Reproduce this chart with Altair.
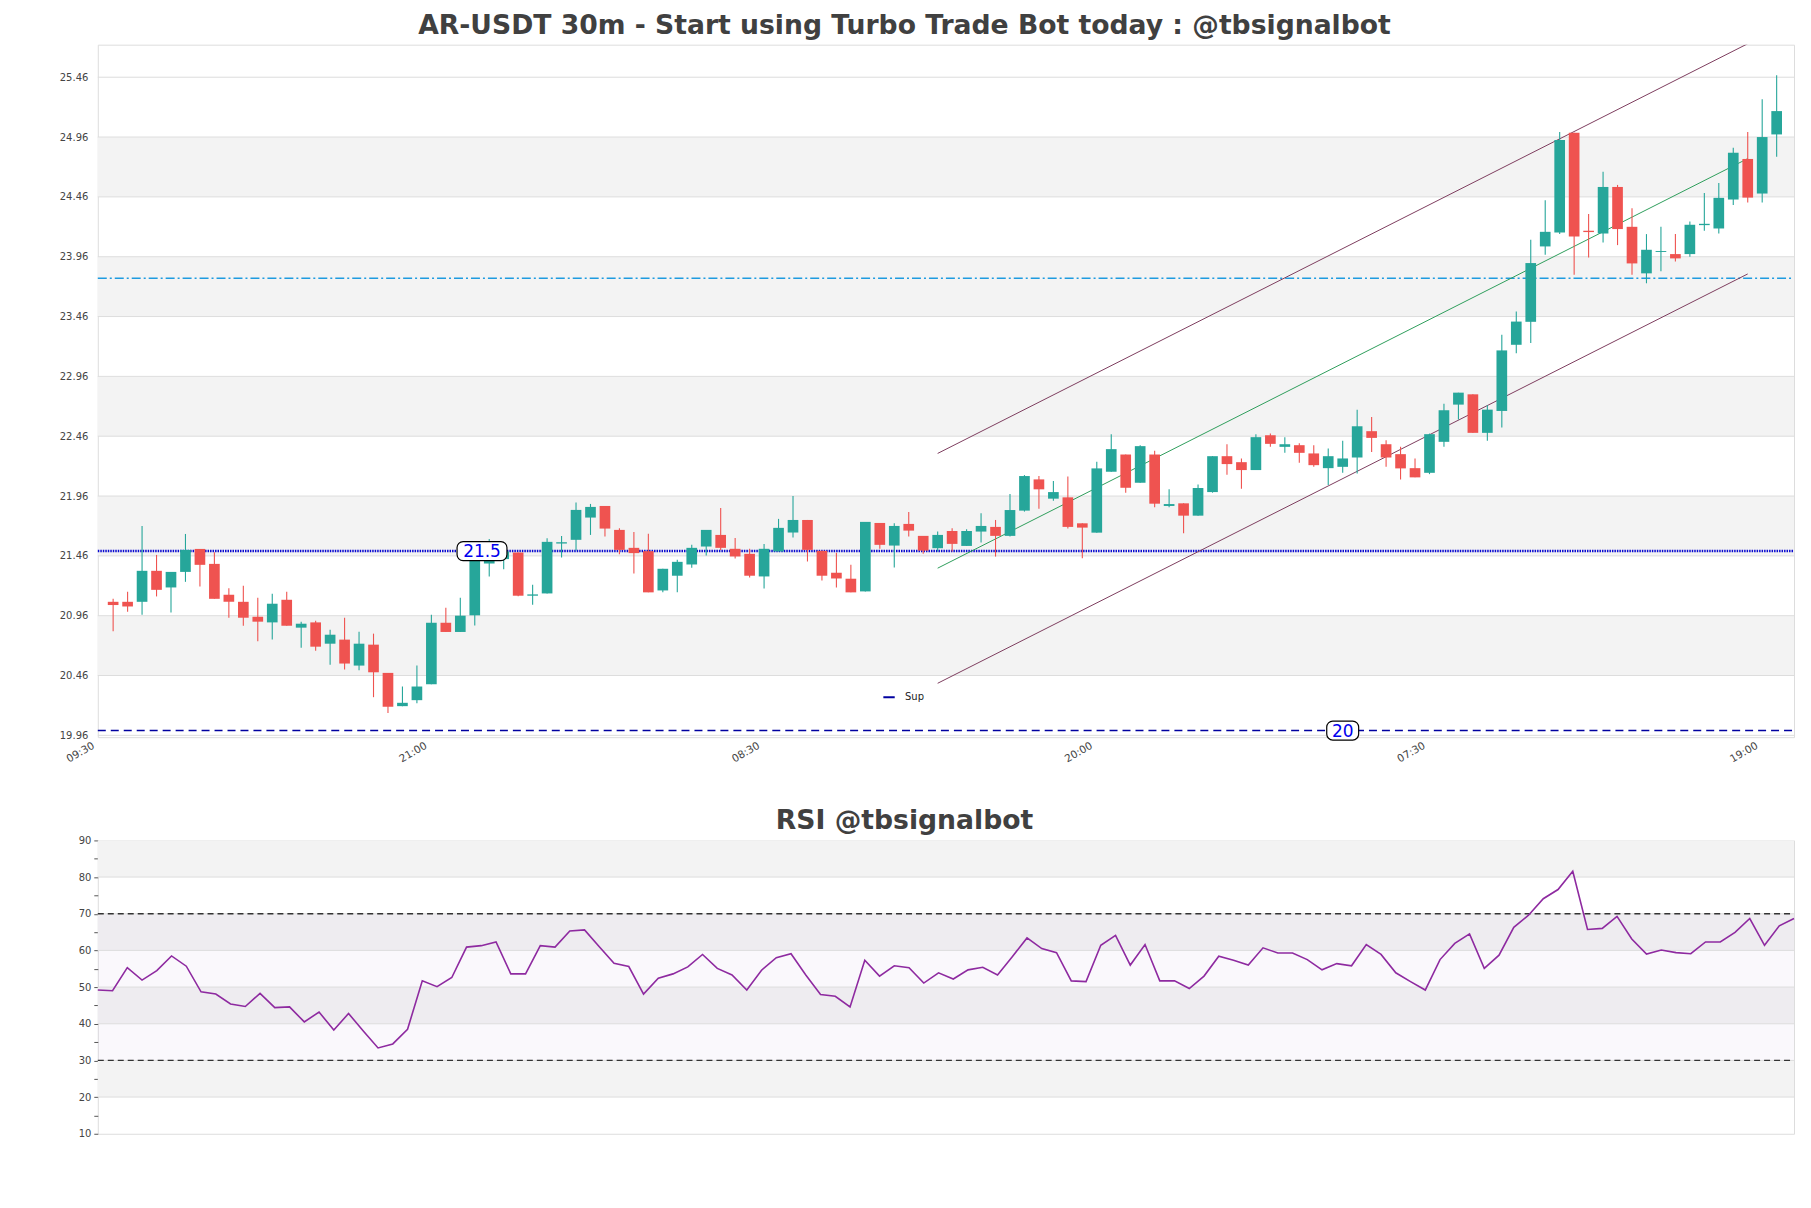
import altair as alt
import pandas as pd

# ---------------- data ----------------
opens = [21.076, 21.076, 21.076, 21.335, 21.196, 21.326, 21.518, 21.393, 21.135, 21.076,
         20.951, 20.904, 21.093, 20.860, 20.904, 20.726, 20.760, 20.543, 20.718, 20.482,
         20.204, 20.254, 20.387, 20.901, 20.824, 20.963, 21.396, 21.433, 21.488, 21.127,
         21.146, 21.563, 21.594, 21.780, 21.877, 21.677, 21.527, 21.499, 21.171, 21.294,
         21.388, 21.538, 21.635, 21.519, 21.477, 21.288, 21.497, 21.655, 21.760, 21.502,
         21.319, 21.269, 21.163, 21.735, 21.546, 21.727, 21.627, 21.524, 21.668, 21.543,
         21.663, 21.702, 21.627, 21.838, 22.099, 21.938, 21.949, 21.732, 21.654, 22.163,
         22.307, 22.071, 22.307, 21.877, 21.899, 21.796, 21.993, 22.293, 22.243, 22.177,
         22.468, 22.371, 22.385, 22.316, 22.193, 22.204, 22.282, 22.502, 22.393, 22.310,
         22.193, 22.154, 22.413, 22.724, 22.810, 22.488, 22.671, 23.224, 23.416, 24.046,
         24.163, 24.996, 24.177, 24.154, 24.543, 24.210, 23.821, 24.000, 23.982, 23.982,
         24.224, 24.196, 24.438, 24.777, 24.488, 24.982]
highs = [21.101, 21.160, 21.710, 21.468, 21.326, 21.643, 21.518, 21.490, 21.190, 21.210,
         21.110, 21.143, 21.160, 20.910, 20.918, 20.843, 20.943, 20.826, 20.810, 20.482,
         20.368, 20.543, 20.968, 21.026, 21.110, 21.420, 21.601, 21.520, 21.488, 21.219,
         21.608, 21.627, 21.905, 21.894, 21.877, 21.691, 21.660, 21.644, 21.352, 21.427,
         21.552, 21.677, 21.860, 21.610, 21.519, 21.560, 21.769, 21.960, 21.760, 21.502,
         21.485, 21.385, 21.744, 21.735, 21.732, 21.827, 21.627, 21.663, 21.691, 21.682,
         21.816, 21.760, 21.977, 22.135, 22.127, 22.085, 22.124, 21.732, 22.246, 22.477,
         22.307, 22.385, 22.338, 22.016, 21.899, 22.057, 22.293, 22.393, 22.274, 22.477,
         22.483, 22.452, 22.402, 22.385, 22.357, 22.421, 22.682, 22.621, 22.427, 22.371,
         22.274, 22.482, 22.732, 22.824, 22.810, 22.718, 23.307, 23.502, 24.102, 24.432,
         25.002, 24.996, 24.316, 24.671, 24.560, 24.366, 24.149, 24.210, 24.149, 24.254,
         24.493, 24.577, 24.871, 25.002, 25.277, 25.477]
lows = [20.829, 20.993, 20.968, 21.121, 20.987, 21.243, 21.204, 21.101, 20.943, 20.876,
        20.746, 20.760, 20.876, 20.693, 20.668, 20.551, 20.510, 20.504, 20.279, 20.146,
        20.204, 20.229, 20.387, 20.824, 20.824, 20.879, 21.287, 21.349, 21.122, 21.052,
        21.146, 21.446, 21.505, 21.635, 21.621, 21.474, 21.313, 21.155, 21.155, 21.155,
        21.360, 21.463, 21.510, 21.438, 21.280, 21.188, 21.497, 21.613, 21.413, 21.255,
        21.196, 21.155, 21.163, 21.519, 21.363, 21.621, 21.477, 21.496, 21.496, 21.543,
        21.571, 21.454, 21.621, 21.830, 21.854, 21.921, 21.688, 21.441, 21.654, 22.163,
        21.988, 22.071, 21.866, 21.866, 21.649, 21.796, 21.988, 22.138, 22.021, 22.177,
        22.371, 22.321, 22.238, 22.204, 22.052, 22.154, 22.149, 22.329, 22.204, 22.099,
        22.116, 22.143, 22.371, 22.599, 22.488, 22.421, 22.532, 23.154, 23.238, 23.977,
        24.149, 23.810, 23.954, 24.079, 24.057, 23.810, 23.738, 23.838, 23.921, 23.960,
        24.177, 24.154, 24.393, 24.413, 24.413, 24.796]
closes = [21.049, 21.037, 21.335, 21.176, 21.326, 21.510, 21.385, 21.101, 21.076, 20.943,
          20.910, 21.060, 20.876, 20.893, 20.701, 20.801, 20.560, 20.726, 20.487, 20.199,
          20.232, 20.368, 20.901, 20.824, 20.960, 21.418, 21.435, 21.497, 21.127, 21.138,
          21.577, 21.574, 21.844, 21.869, 21.688, 21.510, 21.483, 21.155, 21.352, 21.410,
          21.527, 21.677, 21.527, 21.455, 21.294, 21.519, 21.694, 21.760, 21.510, 21.294,
          21.271, 21.155, 21.744, 21.552, 21.710, 21.671, 21.504, 21.635, 21.560, 21.668,
          21.710, 21.627, 21.843, 22.127, 22.016, 21.993, 21.702, 21.696, 22.191, 22.352,
          22.029, 22.377, 21.896, 21.893, 21.796, 22.027, 22.293, 22.227, 22.177, 22.452,
          22.396, 22.393, 22.321, 22.218, 22.293, 22.274, 22.543, 22.446, 22.282, 22.191,
          22.116, 22.477, 22.677, 22.824, 22.488, 22.682, 23.177, 23.418, 23.907, 24.168,
          24.935, 24.129, 24.166, 24.543, 24.191, 23.904, 24.018, 24.008, 23.946, 24.227,
          24.235, 24.452, 24.829, 24.454, 24.960, 25.177]

rsi = [49.2, 49.0, 55.3, 51.9, 54.5, 58.5, 55.7, 48.7, 48.1, 45.4,
       44.7, 48.3, 44.4, 44.6, 40.5, 43.2, 38.3, 42.8, 38.0, 33.4,
       34.5, 38.5, 51.7, 50.1, 52.6, 60.9, 61.3, 62.3, 53.6, 53.6,
       61.3, 60.9, 65.3, 65.6, 61.0, 56.5, 55.6, 48.1, 52.4, 53.6,
       55.5, 58.9, 55.1, 53.3, 49.2, 54.6, 58.0, 59.1, 53.3, 48.0,
       47.5, 44.6, 57.3, 53.0, 55.8, 55.3, 51.1, 53.9, 52.2, 54.7,
       55.4, 53.3, 58.3, 63.4, 60.5, 59.4, 51.7, 51.5, 61.4, 64.1,
       56.0, 61.6, 51.7, 51.7, 49.6, 53.0, 58.4, 57.3, 56.0, 60.7,
       59.3, 59.3, 57.5, 54.7, 56.4, 55.8, 61.6, 58.9, 53.9, 51.5,
       49.2, 57.5, 61.9, 64.5, 55.1, 58.7, 66.3, 69.6, 74.1, 76.6,
       81.6, 65.7, 66.0, 69.3, 63.1, 59.0, 60.1, 59.4, 59.1, 62.3,
       62.3, 64.9, 68.7, 61.4, 66.7, 68.7]

tick_pos = [-1, 22, 45, 68, 91, 114]
tick_labels = ["09:30", "21:00", "08:30", "20:00", "07:30", "19:00"]
price_ticks = [19.96, 20.46, 20.96, 21.46, 21.96, 22.46, 22.96, 23.46, 23.96, 24.46, 24.96, 25.46]
band_lo = [20.46, 21.46, 22.46, 23.46, 24.46]
band_hi = [20.96, 21.96, 22.96, 23.96, 24.96]

res_level = 21.5
sup_level = 20.0
mid_level = 23.78

chan_x = [57, 113]
chan_upper = [22.316, 25.740]
chan_mid = [21.357, 24.780]
chan_lower = [20.395, 23.816]

label_idx = [25.5, 85.0]
label_val = [21.5, 20.0]
label_txt = ["21.5", "20"]

rsi_ticks = [10, 15, 20, 25, 30, 35, 40, 45, 50, 55, 60, 65, 70, 75, 80, 85, 90]
rsi_band_lo = [20, 40, 60, 80]
rsi_band_hi = [30, 50, 70, 90]
rsi_grid = [20, 30, 40, 50, 60, 70, 80]
rsi_levels = [30, 70]

TITLE = "AR-USDT 30m - Start using Turbo Trade Bot today : @tbsignalbot"
RSI_TITLE = "RSI @tbsignalbot"

# ---------------- styling ----------------
FONT = "DejaVu Sans"
W = 1700
H1 = 694
H2 = 294
UP = "#26a69a"
DOWN = "#ef5350"

df = pd.DataFrame({"i": list(range(len(opens))), "open": opens, "high": highs,
                   "low": lows, "close": closes})

xs = alt.Scale(domain=[-1.06, 116.2], nice=False, zero=False, padding=0)
ys = alt.Scale(domain=[19.945, 25.732], nice=False, zero=False, padding=0)

expr = ""
for p, l in zip(tick_pos, tick_labels):
    expr += f"datum.value == {p} ? '{l}' : "
expr += "''"

x_axis = alt.Axis(values=tick_pos, labelExpr=expr, labelAngle=-30, labelAlign="right",
                  labelBaseline="top", ticks=False, grid=False, domain=False,
                  labelFontSize=10.5, labelColor="#444444", labelFont=FONT,
                  labelPadding=3, labelOffset=-8, minExtent=30, maxExtent=30, title=None,
                  labelOverlap=False)
y_axis = alt.Axis(values=price_ticks, format=".2f", ticks=False, grid=False, domain=False,
                  labelFontSize=10, labelColor="#444444", labelFont=FONT, labelPadding=10,
                  minExtent=84, maxExtent=84, title=None)

def Y(field):
    return alt.Y(field, scale=ys, axis=y_axis, title=None)

def X(field):
    return alt.X(field, scale=xs, axis=x_axis, title=None)

bands = alt.Chart(pd.DataFrame({"lo": band_lo, "hi": band_hi})).mark_rect(color="#f3f3f3").encode(
    y=Y("lo:Q"), y2="hi:Q", x=alt.value(0), x2=alt.value(W))

grid = alt.Chart(pd.DataFrame({"p": price_ticks})).mark_rule(color="#dddddd", strokeWidth=1).encode(
    y=Y("p:Q"), x=alt.value(0), x2=alt.value(W))

res_line = alt.Chart(pd.DataFrame({"p": [res_level]})).mark_rule(
    color="#0a0ad0", strokeWidth=2.5, strokeDash=[1.5, 1]).encode(
    y=Y("p:Q"), x=alt.value(0), x2=alt.value(W))

sup_line = alt.Chart(pd.DataFrame({"p": [sup_level], "name": ["Sup"]})).mark_rule(
    strokeWidth=1.5, strokeDash=[8, 5]).encode(
    y=Y("p:Q"), x=alt.value(0), x2=alt.value(W),
    color=alt.Color("name:N", scale=alt.Scale(domain=["Sup"], range=["#0000a0"]),
                    legend=alt.Legend(title=None, orient="none", legendX=786, legendY=647,
                                      symbolType="stroke", symbolSize=130, symbolStrokeWidth=2,
                                      symbolDash=[1, 0], labelFontSize=10, labelFont=FONT,
                                      labelColor="#222222", labelOffset=9, padding=0)))

mid_line = alt.Chart(pd.DataFrame({"p": [mid_level]})).mark_rule(
    color="#1e9be0", strokeWidth=1.3, strokeDash=[9, 3, 2, 3]).encode(
    y=Y("p:Q"), x=alt.value(0), x2=alt.value(W))

chan_df = pd.DataFrame({
    "x1": [chan_x[0]] * 3, "x2": [chan_x[1]] * 3,
    "y1": [chan_upper[0], chan_mid[0], chan_lower[0]],
    "y2": [chan_upper[1], chan_mid[1], chan_lower[1]],
    "k": ["upper", "mid", "lower"]})
channel = alt.Chart(chan_df).mark_rule(strokeWidth=1, clip=True).encode(
    x=X("x1:Q"), x2="x2:Q", y=Y("y1:Q"), y2="y2:Q",
    color=alt.Color("k:N", scale=alt.Scale(domain=["upper", "mid", "lower"],
                                           range=["#7d3d5e", "#2e9e5b", "#7d3d5e"]), legend=None))

candle_color = alt.condition("datum.close >= datum.open", alt.value(UP), alt.value(DOWN))
wicks = alt.Chart(df).mark_rule(strokeWidth=1.1).encode(
    x=X("i:Q"), y=Y("low:Q"), y2="high:Q", color=candle_color)
bodies = alt.Chart(df).mark_bar(size=10.7).encode(
    x=X("i:Q"), y=Y("open:Q"), y2="close:Q", color=candle_color)

lab_df = pd.DataFrame({"x": label_idx, "y": label_val, "t": label_txt})
box1 = alt.Chart(lab_df.iloc[[0]]).mark_rect(
    fill="white", stroke="black", strokeWidth=1.2, cornerRadius=6,
    xOffset=-25, x2Offset=25, yOffset=-9.5, y2Offset=9.5).encode(
    x=X("x:Q"), x2="x:Q", y=Y("y:Q"), y2="y:Q")
box2 = alt.Chart(lab_df.iloc[[1]]).mark_rect(
    fill="white", stroke="black", strokeWidth=1.2, cornerRadius=6,
    xOffset=-16, x2Offset=16, yOffset=-9.5, y2Offset=9.5).encode(
    x=X("x:Q"), x2="x:Q", y=Y("y:Q"), y2="y:Q")
lab_text = alt.Chart(lab_df).mark_text(fontSize=17, font=FONT, color="#0000ee",
                                       baseline="middle", align="center", dy=1).encode(
    x=X("x:Q"), y=Y("y:Q"), text="t:N")

top = alt.layer(bands, grid, res_line, sup_line, mid_line, channel, wicks, bodies,
                box1, box2, lab_text).resolve_scale(color="independent").properties(
    width=W, height=H1,
    title=alt.TitleParams(TITLE, fontSize=26.7, fontWeight="bold", font=FONT, color="#404040",
                          anchor="middle", dx=-41.5, offset=5))

# ---------------- RSI ----------------
rdf = pd.DataFrame({"i": list(range(len(rsi))), "rsi": rsi})
xs2 = alt.Scale(domain=[0, len(rsi) - 1], nice=False, zero=False, padding=0)
ys2 = alt.Scale(domain=[10, 90], nice=False, zero=False, padding=0)

rsi_axis = alt.Axis(values=rsi_ticks, labelExpr="datum.value % 10 == 0 ? datum.label : ''",
                    tickSize=4, tickColor="#555555", ticks=True, grid=False, domain=False,
                    labelFontSize=10, labelColor="#444444", labelFont=FONT, labelPadding=3,
                    minExtent=84, maxExtent=84, title=None)

def RY(field):
    return alt.Y(field, scale=ys2, axis=rsi_axis, title=None)

rbands = alt.Chart(pd.DataFrame({"lo": rsi_band_lo, "hi": rsi_band_hi})).mark_rect(color="#f3f3f3").encode(
    y=RY("lo:Q"), y2="hi:Q", x=alt.value(0), x2=alt.value(W))
rhatch = alt.Chart(pd.DataFrame({"lo": [rsi_levels[0]], "hi": [rsi_levels[1]]})).mark_rect(
    color="#a070c0", opacity=0.05).encode(
    y=RY("lo:Q"), y2="hi:Q", x=alt.value(0), x2=alt.value(W))
rgrid = alt.Chart(pd.DataFrame({"p": rsi_grid})).mark_rule(color="#dddddd", strokeWidth=1).encode(
    y=RY("p:Q"), x=alt.value(0), x2=alt.value(W))
rlevels = alt.Chart(pd.DataFrame({"p": rsi_levels})).mark_rule(
    color="#333333", strokeWidth=1.3, strokeDash=[6, 4]).encode(
    y=RY("p:Q"), x=alt.value(0), x2=alt.value(W))
rline = alt.Chart(rdf).mark_line(color="#8e2aa0", strokeWidth=1.6).encode(
    x=alt.X("i:Q", scale=xs2, axis=None), y=RY("rsi:Q"))

bottom = alt.layer(rbands, rhatch, rgrid, rlevels, rline).properties(
    width=W, height=H2,
    title=alt.TitleParams(RSI_TITLE, fontSize=26.7, fontWeight="bold", font=FONT, color="#404040",
                          anchor="middle", dx=-41.5, offset=1))

chart = alt.vconcat(top, bottom, spacing=38.5).properties(
    padding={"left": 5, "top": 2.5, "right": 5, "bottom": 5}
).configure_view(stroke="#d6d6d6", strokeWidth=1).configure(background="white")

chart.save("out.html", embed_options={"renderer": "svg", "actions": False})
